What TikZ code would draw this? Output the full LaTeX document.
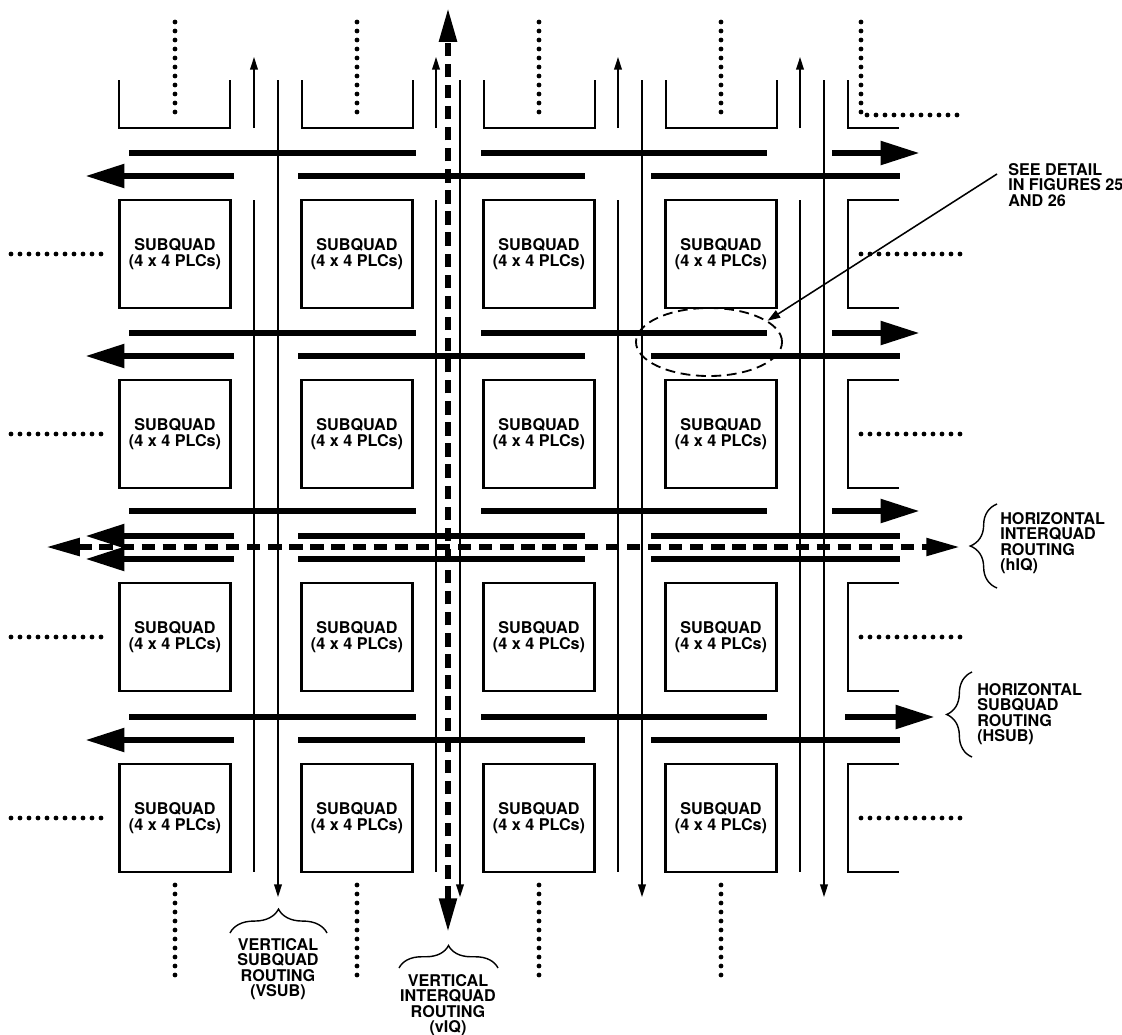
\documentclass[tikz,border=0pt]{standalone}
\usepackage{fontspec}
\setmainfont{TeX Gyre Heros}
\usepackage{tikz}
\usetikzlibrary{arrows.meta, shapes.geometric, decorations.pathreplacing}

\begin{document}
\begin{tikzpicture}[
        x=0.025cm, y=-0.025cm,
        every node/.style={font=\fontsize{11.5}{11}\selectfont\bfseries, align=center, inner sep=0pt},
        subquad/.style={draw, line width=2pt, minimum width=2.775cm, minimum height=2.7cm},
        edgebox/.style={line width=2pt},
        vsub/.style={line width=1.1pt},
        vsubtip/.style={vsub, >={Triangle[length=9pt, width=5.5pt]}, ->},
        hsub/.style={line width=4.8pt},
        hsubtip/.style={hsub, >={Triangle[length=28pt, width=16pt]}, ->},
        interquad/.style={line width=4pt, dash pattern=on 9.5pt off 5.5pt, >={Triangle[length=24pt, width=12pt]}, <->},
        dots/.style={line width=3.4pt, line cap=round, dash pattern=on 0pt off 6.4pt},
        curly/.style={decorate, decoration={brace, amplitude=#1}, line width=1pt},
        sidetext/.style={align=left, anchor=north west},
        detailmark/.style={ellipse, draw, line width=1.3pt, dash pattern=on 7pt off 4pt, minimum width=3.65cm, minimum height=1.7cm},
        leader/.style={line width=1.1pt, >={Triangle[length=9pt, width=6pt]}, ->}
    ]
        \useasboundingbox (0,0) rectangle (1122,1034);

        % subquad array
        \foreach \c/\x in {1/175, 2/357, 3/539, 4/721}
            \foreach \r/\y in {1/254, 2/434, 3/637, 4/818}
                \node[subquad] (sq\r\c) at (\x,\y) {SUBQUAD\\(4 x 4 PLCs)};

        % cut-off subquads at the top and on the right
        \foreach \x in {119, 302, 484, 666}
            \draw[edgebox] (\x,80) -- (\x,128) -- ++(111,0) -- ++(0,-48);
        \draw[edgebox] (848,80) -- (848,128) -- (899,128);
        \foreach \y in {200, 380, 583, 764}
            \draw[edgebox] (899,\y) -- (848,\y) -- (848,\y+108) -- (899,\y+108);

        % vertical subquad routing
        \foreach \x in {254, 436, 618, 800} {
            \draw[vsubtip] (\x,128) -- (\x,57);
            \draw[vsub] (\x,200) -- (\x,872);
            \draw[vsubtip] (\x+24,80) -- (\x+24,897);
        }

        % horizontal subquad routing
        \foreach \y/\s/\e in {153/832/920, 333/832/920, 511/832/920, 717/845/935} {
            \draw[hsub] (129,\y) -- (416,\y) (481,\y) -- (767,\y);
            \draw[hsubtip] (\s,\y) -- (\e,\y);
        }
        \foreach \y in {176, 356, 536, 559, 740} {
            \draw[hsubtip] (234,\y) -- (85,\y);
            \draw[hsub] (298,\y) -- (585,\y) (651,\y) -- (900,\y);
        }

        % interquad routing
        \draw[interquad] (448,932) -- (448,8);
        \draw[interquad] (46,547) -- (960,547);

        % the array goes on
        \foreach \x in {175, 357, 539, 721} {
            \draw[dots] (\x,22) -- (\x,115);
            \draw[dots] (\x,885) -- (\x,980);
        }
        \draw[dots] (861,22) -- (861,115) -- (960,115);
        \foreach \y in {254, 434, 637, 818} {
            \draw[dots] (11,\y) -- (107,\y);
            \draw[dots] (861,\y) -- (960,\y);
        }

        % labels
        \draw[curly=17pt] (230,933) -- (327,933);
        \node[anchor=north] (vsubtext) at (278,938) {VERTICAL\\SUBQUAD\\ROUTING\\(VSUB)};
        \draw[curly=16pt] (399,968) -- (498,968);
        \node[anchor=north] (viqtext) at (448,974) {VERTICAL\\INTERQUAD\\ROUTING\\(vIQ)};
        \draw[curly=19pt] (997,588) -- (997,504);
        \node[sidetext] (hiqtext) at (1000,512) {HORIZONTAL\\INTERQUAD\\ROUTING\\(hIQ)};
        \draw[curly=18pt] (972,757) -- (972,672);
        \node[sidetext] (hsubtext) at (977,683) {HORIZONTAL\\SUBQUAD\\ROUTING\\(HSUB)};

        \node[detailmark] (detail) at (709,342) {};
        \node[sidetext] (seedetail) at (1008,163) {SEE DETAIL\\IN FIGURES 25\\AND 26};
        \draw[leader] ([shift={(-11,11)}]seedetail.north west) -- (detail.20);
    \end{tikzpicture}
\end{document}
